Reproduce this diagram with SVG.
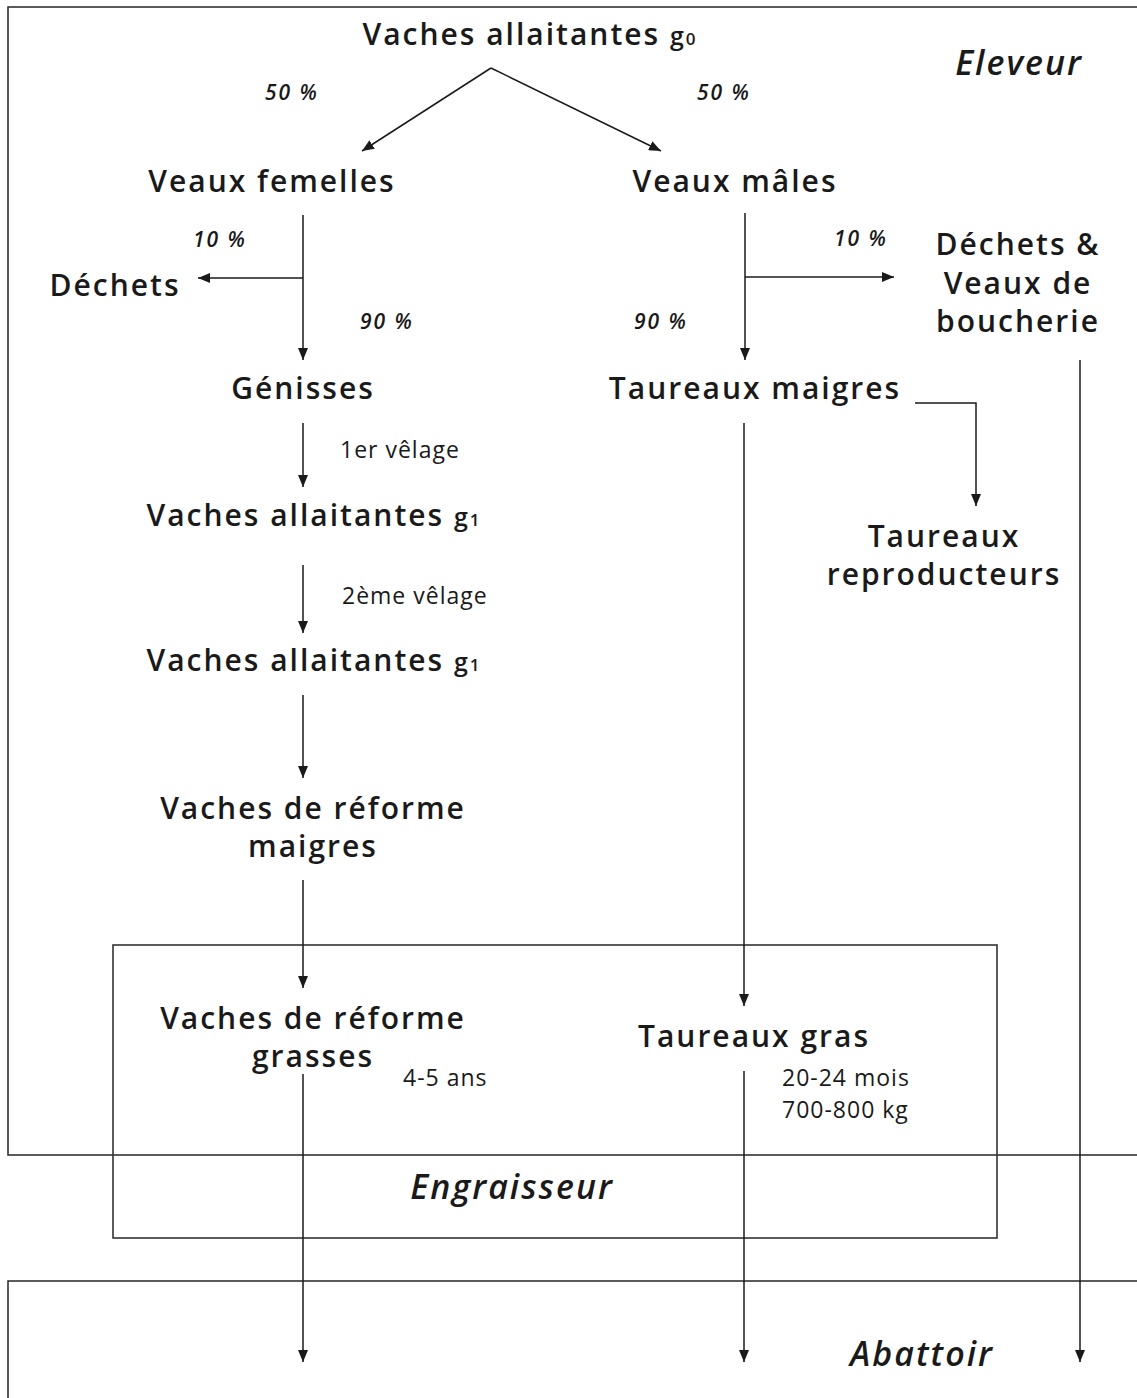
<svg xmlns="http://www.w3.org/2000/svg" width="1137" height="1398" viewBox="0 0 1137 1398">
<defs>
<marker id="ah" markerUnits="userSpaceOnUse" markerWidth="12" markerHeight="10" refX="12" refY="5" orient="auto">
<path d="M0,0 L12,5 L0,10 Z" fill="#1a1a1a"/>
</marker>
<style>
.frame{fill:none;stroke:#333;stroke-width:1.6}
.ln{fill:none;stroke:#1a1a1a;stroke-width:1.5}
.arr{fill:none;stroke:#1a1a1a;stroke-width:1.5;marker-end:url(#ah)}
.n{font-family:"Open Sans","DejaVu Sans",sans-serif;font-weight:600;font-size:30px;letter-spacing:2px;fill:#1a1a1a;text-anchor:middle}
.pct{font-family:"Open Sans","DejaVu Sans",sans-serif;font-style:italic;font-weight:600;font-size:21px;letter-spacing:2px;fill:#1a1a1a;text-anchor:middle}
.sm{font-family:"Open Sans","DejaVu Sans",sans-serif;font-size:23px;letter-spacing:1px;fill:#1a1a1a}
.zone{font-family:"Open Sans","DejaVu Sans",sans-serif;font-style:italic;font-weight:600;font-size:34px;letter-spacing:2px;fill:#1a1a1a;text-anchor:middle}
</style>
</defs>
<rect width="1137" height="1398" fill="#fff"/>
<g id="zones">
<rect id="eleveur" class="frame" x="8" y="7" width="1140" height="1148"/>
<rect id="engraisseur" class="frame" x="113" y="945" width="884" height="293"/>
<rect id="abattoir" class="frame" x="8" y="1281" width="1140" height="130"/>
<text class="zone" x="1019" y="75">Eleveur</text>
<text class="zone" x="512" y="1199">Engraisseur</text>
<text class="zone" x="922" y="1366">Abattoir</text>
</g>
<g id="connectors">
<line class="arr" x1="491" y1="68" x2="362" y2="151"/>
<line class="arr" x1="491" y1="68" x2="661" y2="151"/>
<line class="arr" x1="303" y1="215" x2="303" y2="360"/>
<line class="arr" x1="303" y1="278" x2="198" y2="278"/>
<line class="arr" x1="745" y1="213" x2="745" y2="360"/>
<line class="arr" x1="745" y1="277" x2="894" y2="277"/>
<polyline class="arr" points="915,403 976,403 976,506"/>
<line class="arr" x1="744" y1="423" x2="744" y2="1006"/>
<line class="arr" x1="1080" y1="360" x2="1080" y2="1362"/>
<line class="arr" x1="303" y1="423" x2="303" y2="487"/>
<line class="arr" x1="303" y1="565" x2="303" y2="633"/>
<line class="arr" x1="303" y1="695" x2="303" y2="778"/>
<line class="arr" x1="303" y1="880" x2="303" y2="988"/>
<line class="arr" x1="303" y1="1074" x2="303" y2="1362"/>
<line class="arr" x1="744" y1="1071" x2="744" y2="1362"/>
</g>
<g id="labels">
<text class="pct" x="292" y="100">50 %</text>
<text class="pct" x="724" y="100">50 %</text>
<text class="pct" x="220" y="247">10 %</text>
<text class="pct" x="387" y="329">90 %</text>
<text class="pct" x="861" y="246">10 %</text>
<text class="pct" x="661" y="329">90 %</text>
<text class="sm" x="340" y="458">1er vêlage</text>
<text class="sm" x="342" y="604">2ème vêlage</text>
<text class="sm" x="403" y="1086">4-5 ans</text>
<text class="sm" x="782" y="1086">20-24 mois</text>
<text class="sm" x="782" y="1118">700-800 kg</text>
</g>
<g id="n-vaches-g0"><text class="n" x="530" y="45" font-size="29">Vaches allaitantes <tspan font-size="25">g</tspan><tspan font-size="17">0</tspan></text></g>
<g id="n-veaux-femelles"><text class="n" x="272" y="192">Veaux femelles</text></g>
<g id="n-veaux-males"><text class="n" x="735" y="192">Veaux mâles</text></g>
<g id="n-dechets"><text class="n" x="115" y="296">Déchets</text></g>
<g id="n-dechets-veaux"><text class="n" x="1018" y="255">Déchets &amp;</text><text class="n" x="1018" y="294">Veaux de</text><text class="n" x="1018" y="332">boucherie</text></g>
<g id="n-genisses"><text class="n" x="303" y="399">Génisses</text></g>
<g id="n-taureaux-maigres"><text class="n" x="755" y="399">Taureaux maigres</text></g>
<g id="n-taureaux-repro"><text class="n" x="944" y="547">Taureaux</text><text class="n" x="944" y="585">reproducteurs</text></g>
<g id="n-vaches-g1a"><text class="n" x="314" y="526">Vaches allaitantes <tspan font-size="25">g</tspan><tspan font-size="17">1</tspan></text></g>
<g id="n-vaches-g1b"><text class="n" x="314" y="671">Vaches allaitantes <tspan font-size="25">g</tspan><tspan font-size="17">1</tspan></text></g>
<g id="n-reforme-maigres"><text class="n" x="313" y="819">Vaches de réforme</text><text class="n" x="313" y="857">maigres</text></g>
<g id="n-reforme-grasses"><text class="n" x="313" y="1029">Vaches de réforme</text><text class="n" x="313" y="1067">grasses</text></g>
<g id="n-taureaux-gras"><text class="n" x="754" y="1047">Taureaux gras</text></g>
</svg>
